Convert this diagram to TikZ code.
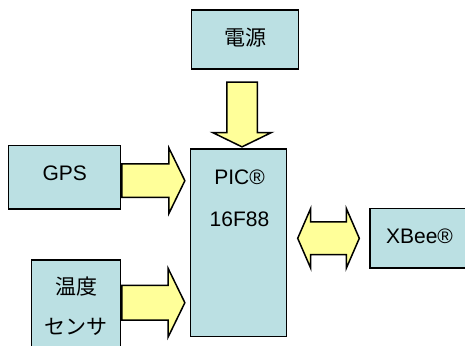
\documentclass[tikz,border=0pt]{standalone}
\usepackage{fontspec}
\setmainfont{Liberation Sans}
\newfontfamily\jp{Noto Sans CJK JP}
\usetikzlibrary{shapes.arrows}
\definecolor{boxcyan}{RGB}{187,224,227}
\definecolor{flowyellow}{RGB}{255,255,153}

\begin{document}
\begin{tikzpicture}[
		x=1bp, y=-1bp,
		block/.style={draw, line width=1.5bp, fill=boxcyan, inner sep=0pt, align=center, font=\fontsize{21bp}{40bp}\selectfont},
		flow/.style={draw, line width=1.5bp, fill=flowyellow, inner xsep=0pt, single arrow, single arrow tip angle=128, single arrow head extend=#1, anchor=tip},
		bothflow/.style={draw, line width=1.5bp, fill=flowyellow, inner xsep=0pt, double arrow, double arrow tip angle=133, double arrow head extend=#1},
		txt/.style={inner sep=0pt, align=center, font=\fontsize{21bp}{42.5bp}\selectfont},
	]
	\useasboundingbox (0,0) rectangle (465,345);

	\node[block, text depth=6bp, minimum width=106.6bp, minimum height=59bp] (power) at (245, 39.5) {\jp 電源};
	\node[block, minimum width=95.6bp, minimum height=187.7bp] (pic) at (238.5, 242.85) {};
	\node[txt, anchor=north] (pictext) at (239.5, 169.5) {PIC®\\16F88};
	\node[block, text depth=7.8bp, minimum width=112bp, minimum height=63.7bp] (gps) at (64.7, 177.2) {GPS};
	\node[block, minimum width=89bp, minimum height=91.6bp] (temp) at (76.2, 305.8) {\jp 温度\\\jp センサ};
	\node[block, text depth=4.8bp, minimum width=99bp, minimum height=59.7bp] (xbee) at (419.5, 238.2) {XBee®};

	% block arrows
	\node[flow=14bp, inner ysep=14.5bp, rotate=-90, minimum height=64.7bp] (powerflow) at (242, 147.7) {};
	\node[flow=15.85bp, inner ysep=16bp, minimum height=63bp] (gpsflow) at (185.7, 180.7) {};
	\node[flow=16.7bp, inner ysep=16.65bp, minimum height=63bp] (tempflow) at (185.7, 302.7) {};
	\node[bothflow=13.55bp, inner ysep=15.65bp, minimum height=61.6bp] (xbeeflow) at (328.5, 238.3) {};
\end{tikzpicture}
\end{document}
